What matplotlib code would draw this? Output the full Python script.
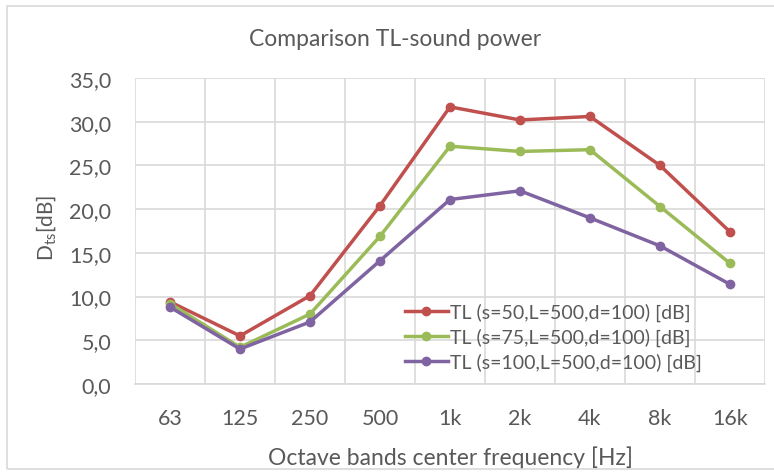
import matplotlib
matplotlib.use("Agg")
import matplotlib.pyplot as plt
from matplotlib.patches import Rectangle

# Octave bands and TL values
bands = ["63", "125", "250", "500", "1k", "2k", "4k", "8k", "16k"]
tl_s50 = [9.4, 5.5, 10.1, 20.4, 31.7, 30.2, 30.6, 25.0, 17.4]
tl_s75 = [9.2, 4.2, 8.0, 16.9, 27.2, 26.6, 26.8, 20.3, 13.8]
tl_s100 = [8.8, 4.0, 7.1, 14.1, 21.1, 22.1, 19.0, 15.8, 11.4]
labels = ["TL (s=50,L=500,d=100) [dB]",
          "TL (s=75,L=500,d=100) [dB]",
          "TL (s=100,L=500,d=100) [dB]"]
colors = ["#C0504D", "#9BBB59", "#8064A2"]

plt.rcParams["font.family"] = ["Lato", "DejaVu Sans"]
txt = "#595959"
grid = "#D9D9D9"

fig = plt.figure(figsize=(7.74, 4.77), dpi=100)
ax = fig.add_axes([135 / 774, 1 - 385 / 477, 630 / 774, 306 / 477])

x = list(range(len(bands)))
for ys, lab, c in zip([tl_s50, tl_s75, tl_s100], labels, colors):
    ax.plot(x, ys, color=c, lw=2.5, marker="o", ms=6, label=lab,
            solid_joinstyle="round")

ax.set_xlim(-0.5, len(bands) - 0.5)
ax.set_ylim(0, 35)
ax.set_yticks(range(0, 36, 5))
ax.set_yticklabels([f"{v},0" for v in range(0, 36, 5)])
ax.set_xticks(x)
ax.set_xticklabels(bands)
ax.set_xticks([i - 0.5 for i in range(len(bands) + 1)], minor=True)
ax.grid(True, which="major", axis="y", color=grid, lw=1.2)
ax.grid(True, which="minor", axis="x", color=grid, lw=1.2)
ax.set_axisbelow(True)
for s in ["top", "right", "left"]:
    ax.spines[s].set_visible(False)
ax.spines["bottom"].set_color(grid)
ax.spines["bottom"].set_linewidth(1.2)
ax.tick_params(which="both", length=0)
ax.tick_params(axis="y", pad=17, labelsize=15.5, labelcolor=txt)
ax.tick_params(axis="x", pad=17, labelsize=15.5, labelcolor=txt)

ax.set_xlabel("Octave bands center frequency [Hz]", fontsize=16.5, color=txt,
              labelpad=13)
fig.text(47 / 774, 1 - 228 / 477, r"D$_{\mathregular{ts}}$[dB]", rotation=90,
         fontsize=15, color=txt, ha="center", va="center")
fig.text(395 / 774, 1 - 40 / 477, "Comparison TL-sound power", fontsize=16.5,
         color=txt, ha="center", va="center")

leg = ax.legend(loc="center left", bbox_to_anchor=(405 / 774, 1 - 338 / 477),
                bbox_transform=fig.transFigure, frameon=False, fontsize=14,
                handlelength=2.2, handletextpad=0.1, labelspacing=0.35,
                borderpad=0, borderaxespad=0)
for t in leg.get_texts():
    t.set_color(txt)

fig.patches.append(Rectangle((7 / 774, 1 - 470 / 477), 1, 463 / 477,
                             transform=fig.transFigure, fill=False,
                             edgecolor=grid, lw=1.2))

fig.savefig("out.png", dpi=100)
